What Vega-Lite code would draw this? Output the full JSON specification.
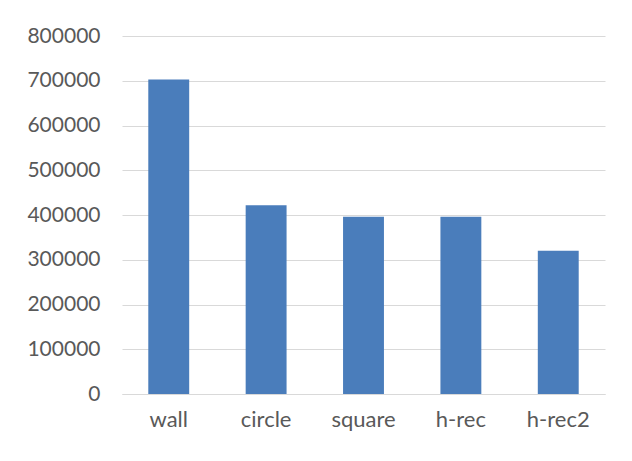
{
  "$schema": "https://vega.github.io/schema/vega-lite/v6.json",
  "autosize": {"type": "none"},
  "width": 483,
  "height": 358,
  "padding": {"left": 122, "top": 36, "right": 27, "bottom": 67},
  "background": "white",
  "data": {"values": [
    {"shape": "wall", "value": 703000},
    {"shape": "circle", "value": 422000},
    {"shape": "square", "value": 396000},
    {"shape": "h-rec", "value": 396000},
    {"shape": "h-rec2", "value": 320000}
  ]},
  "mark": {"type": "bar", "color": "#4a7dbb"},
  "encoding": {
    "x": {"field": "shape", "type": "nominal", "sort": null,
      "scale": {"paddingInner": 0.58, "paddingOuter": 0.27},
      "axis": {"title": null, "labelAngle": 0, "ticks": false, "domainColor": "#d9d9d9", "labelPadding": 15, "labelFontSize": 22, "labelFont": "Lato", "labelColor": "#595959"}},
    "y": {"field": "value", "type": "quantitative",
      "scale": {"domain": [0, 800000], "nice": false},
      "axis": {"title": null, "values": [0,100000,200000,300000,400000,500000,600000,700000,800000], "format": "d", "domain": false, "ticks": false, "gridColor": "#d9d9d9", "labelPadding": 22, "labelFontSize": 21, "labelFont": "Lato", "labelColor": "#595959"}}
  },
  "config": {"view": {"stroke": null}}
}
